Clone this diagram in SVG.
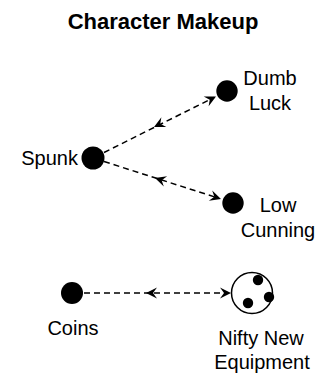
<svg xmlns="http://www.w3.org/2000/svg" width="321" height="373" viewBox="0 0 321 373">
<style>
text{font-family:"Liberation Sans",Arial,sans-serif;font-size:20px;fill:#000}
.title{font-weight:bold;font-size:22px}
.dot{fill:#000}
.edge{stroke:#000;stroke-width:1.5;stroke-dasharray:6,4;fill:none}
.head{fill:#000}
</style>
<defs>
<path id="stealth" d="M0,0 L-11,-5.5 L-7,0 L-11,5.5 Z"/>
</defs>
<text class="title" x="163" y="29" text-anchor="middle">Character Makeup</text>
<g id="connectors">
<line class="edge" x1="104" y1="152.5" x2="214" y2="97.5"/>
<use href="#stealth" class="head" transform="translate(216,96.5) rotate(-26.6)"/>
<use href="#stealth" class="head" transform="translate(154,127) rotate(153.4)"/>
<line class="edge" x1="104" y1="161.5" x2="218" y2="198"/>
<use href="#stealth" class="head" transform="translate(221,199) rotate(17.8)"/>
<use href="#stealth" class="head" transform="translate(155,178) rotate(197.8)"/>
<line class="edge" x1="84" y1="293" x2="229" y2="293"/>
<use href="#stealth" class="head" transform="translate(231,293)"/>
<use href="#stealth" class="head" transform="translate(146,293) rotate(180)"/>
</g>
<g id="spunk">
<circle class="dot" cx="93" cy="158" r="11.5"/>
<text x="78" y="165" text-anchor="end">Spunk</text>
</g>
<g id="dumb-luck">
<circle class="dot" cx="227" cy="91" r="10.7"/>
<text x="270" y="85" text-anchor="middle">Dumb</text>
<text x="270" y="110" text-anchor="middle">Luck</text>
</g>
<g id="low-cunning">
<circle class="dot" cx="233" cy="203" r="10.7"/>
<text x="278" y="212" text-anchor="middle">Low</text>
<text x="278" y="237" text-anchor="middle">Cunning</text>
</g>
<g id="coins">
<circle class="dot" cx="72" cy="293" r="11"/>
<text x="73" y="335" text-anchor="middle">Coins</text>
</g>
<g id="nifty-new-equipment">
<circle cx="252" cy="293" r="20.5" fill="#fff" stroke="#000" stroke-width="1.5"/>
<circle class="dot" cx="258" cy="280" r="5.2"/>
<circle class="dot" cx="248" cy="303" r="5.2"/>
<circle class="dot" cx="269" cy="297" r="5.2"/>
<text x="261" y="345" text-anchor="middle">Nifty New</text>
<text x="262" y="369" text-anchor="middle">Equipment</text>
</g>
</svg>
